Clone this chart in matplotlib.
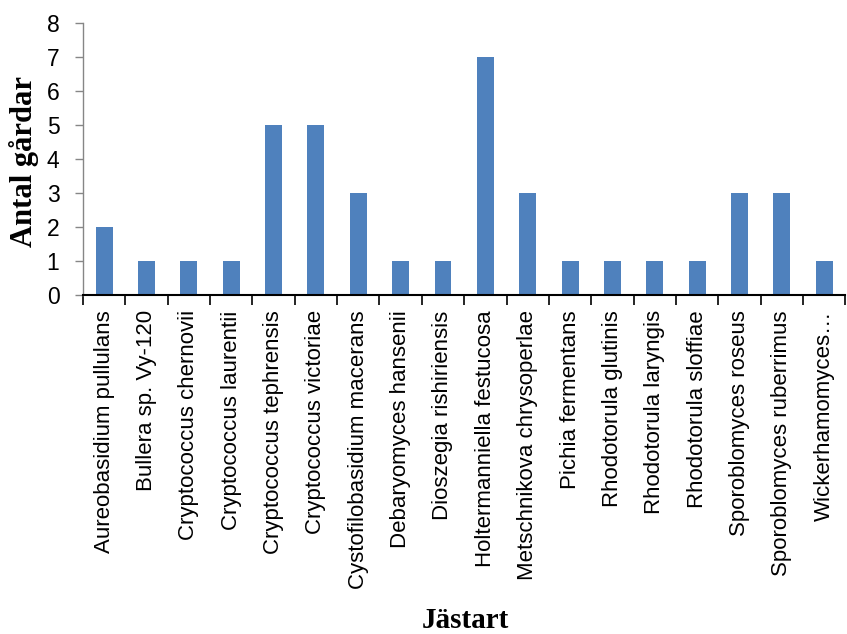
import matplotlib
matplotlib.use("Agg")
import matplotlib.pyplot as plt
import numpy as np

species = [
    "Aureobasidium pullulans", "Bullera sp. Vy-120", "Cryptococcus chernovii",
    "Cryptococcus laurentii", "Cryptococcus tephrensis", "Cryptococcus victoriae",
    "Cystofilobasidium macerans", "Debaryomyces hansenii", "Dioszegia rishiriensis",
    "Holtermanniella festucosa", "Metschnikova chrysoperlae", "Pichia fermentans",
    "Rhodotorula glutinis", "Rhodotorula laryngis", "Rhodotorula sloffiae",
    "Sporoblomyces roseus", "Sporoblomyces ruberrimus", "Wickerhamomyces…",
]
farms = [2, 1, 1, 1, 5, 5, 3, 1, 1, 7, 3, 1, 1, 1, 1, 3, 3, 1]
yticks = [0, 1, 2, 3, 4, 5, 6, 7, 8]

fig = plt.figure(figsize=(8.47, 6.34), dpi=100)
ax = fig.add_axes([0.098, 0.5347, 0.900, 0.429])

x = np.arange(len(species))
ax.bar(x, farms, width=0.4, color="#4F81BD", zorder=2)

ax.set_xlim(-0.5, len(species) - 0.5)
ax.set_ylim(0, 8)
ax.set_yticks(yticks)
ax.set_yticklabels([str(v) for v in yticks], fontfamily="Liberation Sans", fontsize=16.5)

ax.set_xticks(x)
ax.set_xticklabels(species, rotation=90, fontfamily="Liberation Sans", fontsize=16)
ax.tick_params(axis="x", length=0, pad=11)
ax.set_xticks(np.arange(len(species) + 1) - 0.5, minor=True)
ax.tick_params(axis="x", which="minor", length=7, width=1.2, color="black", direction="out")
ax.tick_params(axis="y", length=6, width=1, color="#868686", direction="out", pad=11)

for side in ("top", "right"):
    ax.spines[side].set_visible(False)
ax.spines["left"].set_color("#868686")
ax.spines["left"].set_linewidth(1)
ax.spines["bottom"].set_color("black")
ax.spines["bottom"].set_linewidth(1.5)

ax.set_ylabel("Antal gårdar", fontfamily="Liberation Serif", fontweight="bold", fontsize=22)
ax.yaxis.set_label_coords(-0.058, 0.49)
fig.text(0.549, 0.009, "Jästart", fontfamily="Liberation Serif", fontweight="bold",
         fontsize=21, ha="center", va="baseline")

fig.savefig("out.png", dpi=100, facecolor="white")
